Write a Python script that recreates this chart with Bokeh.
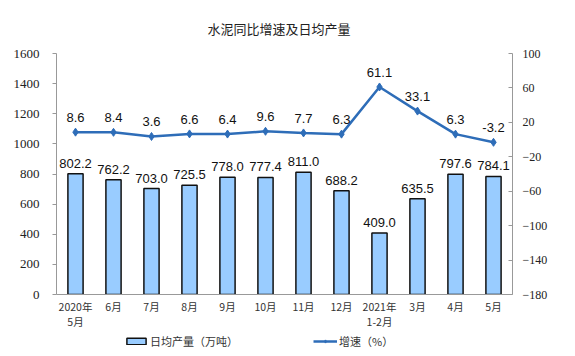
from bokeh.plotting import figure
from bokeh.models import (ColumnDataSource, Range1d, LinearAxis, Legend, LegendItem,
                          FactorRange, LabelSet, FixedTicker, Title)
from bokeh.core.properties import value
from bokeh.layouts import column
from bokeh.embed import file_html
from bokeh.resources import INLINE

categories = ["2020年\n5月", "6月", "7月", "8月", "9月", "10月", "11月", "12月",
              "2021年\n1-2月", "3月", "4月", "5月"]
output = [802.2, 762.2, 703.0, 725.5, 778.0, 777.4, 811.0, 688.2, 409.0, 635.5, 797.6, 784.1]
growth = [8.6, 8.4, 3.6, 6.6, 6.4, 9.6, 7.7, 6.3, 61.1, 33.1, 6.3, -3.2]
left_ticks = [0, 200, 400, 600, 800, 1000, 1200, 1400, 1600]
right_ticks = [-180, -140, -100, -60, -20, 20, 60, 100]
legend_labels = ["日均产量（万吨）", "增速（%）"]

BAR_FILL = "#99CCFF"
BAR_LINE = "#111111"
LINE_COLOR = "#2E6DB8"
AXIS_GRAY = "#999999"

src = ColumnDataSource(dict(
    cat=categories, output=output, growth=growth,
    out_lbl=[f"{v:.1f}" for v in output],
    gr_lbl=[f"{v:.1f}" for v in growth],
))

p = figure(x_range=FactorRange(*categories), y_range=Range1d(0, 1600),
           frame_width=456, frame_height=241, output_backend="svg", toolbar_location=None,
           min_border_left=56, min_border_right=63, min_border_top=53, min_border_bottom=40)
p.extra_y_ranges = {"g": Range1d(-180, 100)}
p.outline_line_color = None
p.xgrid.visible = False
p.ygrid.visible = False
p.background_fill_color = "white"
p.border_fill_color = "white"

t = Title(text="水泥同比增速及日均产量", text_font="Noto Sans CJK SC", text_font_size="13px",
          text_font_style="normal", text_color="#222222", align="left", offset=151,
          standoff=32)
p.add_layout(t, "above")

# axes
xa = p.xaxis[0]
xa.axis_line_color = AXIS_GRAY
xa.major_tick_line_color = None
xa.major_label_text_font = "Noto Sans CJK SC"
xa.major_label_text_font_size = "10.5px"
xa.major_label_text_color = "#333333"
xa.major_label_text_line_height = 1.0
xa.major_label_standoff = -2

ya = p.yaxis[0]
ya.ticker = FixedTicker(ticks=left_ticks)
ya.axis_line_color = AXIS_GRAY
ya.major_tick_line_color = AXIS_GRAY
ya.major_tick_out = 4
ya.major_tick_in = 0
ya.minor_tick_line_color = None
ya.major_label_text_font = "Liberation Serif"
ya.major_label_text_font_size = "13px"
ya.major_label_text_color = "#222222"
ya.major_label_standoff = 13

ra = LinearAxis(y_range_name="g", ticker=FixedTicker(ticks=right_ticks))
ra.axis_line_color = AXIS_GRAY
ra.major_tick_line_color = AXIS_GRAY
ra.major_tick_out = 0
ra.major_tick_in = 4
ra.minor_tick_line_color = None
ra.major_label_text_font = "Liberation Serif"
ra.major_label_text_font_size = "12px"
ra.major_label_text_color = "#222222"
ra.major_label_standoff = 10
p.add_layout(ra, "right")

p.vbar(x="cat", top="output", width=0.4, source=src,
       fill_color=BAR_FILL, line_color=BAR_LINE, line_width=1.5)
p.line(x="cat", y="growth", source=src, y_range_name="g",
       line_color=LINE_COLOR, line_width=2.5)
p.scatter(x="cat", y="growth", source=src, y_range_name="g", marker="diamond",
          size=8, fill_color=LINE_COLOR, line_color=LINE_COLOR)

p.add_layout(LabelSet(x="cat", y="output", text="out_lbl", source=src,
                      text_align="center", text_baseline="bottom", y_offset=6,
                      text_font=value("Liberation Sans"), text_font_size="13px",
                      text_color="#111111"))
p.add_layout(LabelSet(x="cat", y="growth", text="gr_lbl", source=src, y_range_name="g",
                      text_align="center", text_baseline="bottom", y_offset=10,
                      text_font=value("Liberation Sans"), text_font_size="13px",
                      text_color="#111111"))

# legend strip (separate small figure below the chart); its renderers are hidden,
# only their legend swatches are drawn.
lg = figure(width=575, height=22, output_backend="svg", toolbar_location=None,
            x_axis_type=None, y_axis_type=None, x_range=Range1d(0, 1), y_range=Range1d(0, 1),
            min_border=0, min_border_left=0, min_border_right=0,
            min_border_top=0, min_border_bottom=0)
lg.outline_line_color = None
lg.xgrid.visible = False
lg.ygrid.visible = False
r_bar = lg.vbar(x="output", top="output", width=0.4, source=src,
                fill_color=BAR_FILL, line_color=BAR_LINE, line_width=1.5)
r_line = lg.line(x="output", y="output", source=src, line_color=LINE_COLOR, line_width=2.5)
r_pt = lg.scatter(x="output", y="output", source=src, marker="diamond", size=7,
                  fill_color=LINE_COLOR, line_color=LINE_COLOR)
for r in (r_bar, r_line, r_pt):
    r.visible = False

leg = Legend(items=[LegendItem(label=legend_labels[0], renderers=[r_bar]),
                    LegendItem(label=legend_labels[1], renderers=[r_line, r_pt])],
             orientation="horizontal", location=(68, 7),
             glyph_width=24, glyph_height=8, spacing=75, label_standoff=2,
             label_height=12, label_width=10,
             label_text_font="Noto Sans CJK SC", label_text_font_size="11px",
             label_text_color="#333333",
             border_line_alpha=0, background_fill_alpha=0, padding=0, margin=0)
lg.add_layout(leg, "center")

layout = column(p, lg, spacing=0)
open("out.html", "w").write(file_html(layout, INLINE))
